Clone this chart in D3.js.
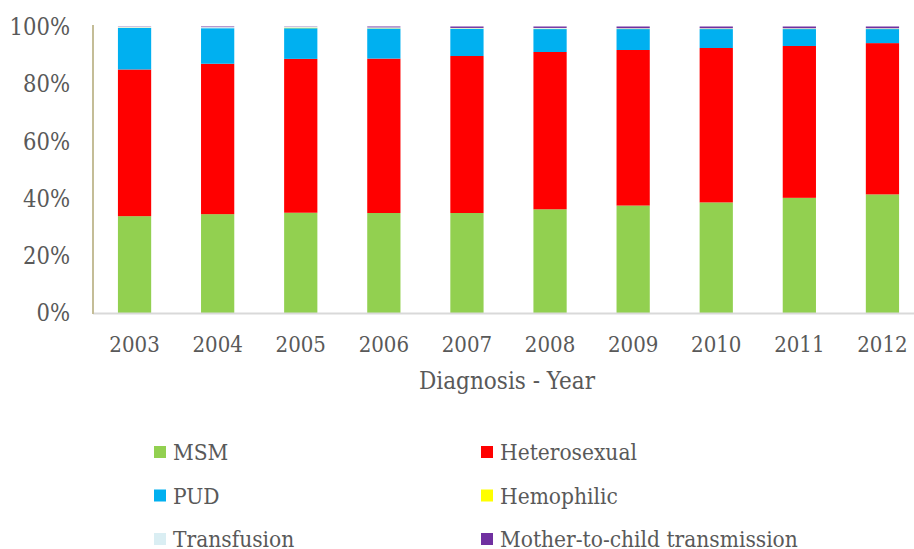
<!DOCTYPE html>
<meta charset="utf-8">
<script src="https://d3js.org/d3.v7.min.js"></script>
<style>
  body { margin: 0; background: #fff; }
  text { font-family: "DejaVu Serif Condensed", "DejaVu Serif", serif; fill: #595959; }
</style>
<div id="chart"></div>
<script>
// categories and series (share of diagnoses, %)
var years = ["2003", "2004", "2005", "2006", "2007", "2008", "2009", "2010", "2011", "2012"];
var msm          = [33.8, 34.5, 35.0, 34.9, 34.9, 36.2, 37.5, 38.6, 40.2, 41.4];
var heterosexual = [51.2, 52.5, 53.7, 53.9, 54.8, 54.9, 54.3, 53.9, 53.0, 52.8];
var pud          = [14.5, 12.4, 10.7, 10.5,  9.5,  8.0,  7.3,  6.6,  5.9,  4.9];
var hemophilic   = [ 0.1,  0.0,  0.2,  0.1,  0.1,  0.1,  0.1,  0.1,  0.1,  0.1];
var transfusion  = [ 0.3,  0.4,  0.3,  0.3,  0.2,  0.3,  0.2,  0.2,  0.2,  0.2];
var motherChild  = [ 0.1,  0.2,  0.1,  0.3,  0.5,  0.5,  0.6,  0.6,  0.6,  0.6];
var seriesNames = ["MSM", "Heterosexual", "PUD", "Hemophilic", "Transfusion", "Mother-to-child transmission"];
var seriesValues = [msm, heterosexual, pud, hemophilic, transfusion, motherChild];
var seriesColors = ["#92D050", "#FF0000", "#00B0F0", "#FFFF00", "#DAEEF3", "#7030A0"];
var yTicks = [0, 20, 40, 60, 80, 100];

var W = 914, H = 549;
var svg = d3.select("#chart").append("svg")
    .attr("width", W)
    .attr("height", H);

// build rows for the stack
var rows = years.map(function(y, i) {
  var r = { year: y };
  seriesNames.forEach(function(s, j) { r[s] = seriesValues[j][i]; });
  return r;
});

var x = d3.scaleBand()
    .domain(years)
    .range([93, 924])
    .paddingInner(0.6)
    .paddingOuter(0.3);

var y = d3.scaleLinear()
    .domain([0, 100])
    .range([313, 26.5]);

var color = d3.scaleOrdinal().domain(seriesNames).range(seriesColors);

var stacked = d3.stack().keys(seriesNames)(rows);

// bars
svg.append("g")
  .selectAll("g")
  .data(stacked)
  .enter().append("g")
    .attr("fill", function(d) { return color(d.key); })
  .selectAll("rect")
  .data(function(d) { return d; })
  .enter().append("rect")
    .attr("x", function(d) { return x(d.data.year); })
    .attr("y", function(d) { return y(d[1]); })
    .attr("width", x.bandwidth())
    .attr("height", function(d) { return y(d[0]) - y(d[1]); });

// x axis line
svg.append("line")
    .attr("x1", 93).attr("x2", 914)
    .attr("y1", 313.5).attr("y2", 313.5)
    .attr("stroke", "#D9D9D9")
    .attr("stroke-width", 2);

// y axis line
svg.append("line")
    .attr("x1", 93).attr("x2", 93)
    .attr("y1", 25).attr("y2", 314)
    .attr("stroke", "#C4BD97")
    .attr("stroke-width", 2);

// y tick labels
svg.append("g")
  .selectAll("text")
  .data(yTicks)
  .enter().append("text")
    .attr("x", 70)
    .attr("y", function(d) { return y(d); })
    .attr("dy", "0.36em")
    .attr("text-anchor", "end")
    .style("font-size", "23.5px")
    .text(function(d) { return d + "%"; });

// x tick labels
svg.append("g")
  .selectAll("text")
  .data(years)
  .enter().append("text")
    .attr("x", function(d) { return x(d) + x.bandwidth() / 2; })
    .attr("y", 352)
    .attr("text-anchor", "middle")
    .style("font-size", "22px")
    .text(function(d) { return d; });

// axis title
svg.append("text")
    .attr("x", 507)
    .attr("y", 389)
    .attr("text-anchor", "middle")
    .style("font-size", "24px")
    .text("Diagnosis - Year");

// legend, two columns
var legend = svg.append("g")
  .selectAll("g")
  .data(seriesNames)
  .enter().append("g")
    .attr("transform", function(d, i) {
      var col = i % 2, row = Math.floor(i / 2);
      return "translate(" + (col === 0 ? 154 : 481) + "," + (452 + row * 43.5) + ")";
    });

legend.append("rect")
    .attr("x", 0)
    .attr("y", -6)
    .attr("width", 12)
    .attr("height", 12)
    .attr("fill", color);

legend.append("text")
    .attr("x", 19)
    .attr("y", 0)
    .attr("dy", "0.36em")
    .style("font-size", "22.5px")
    .text(function(d) { return d; });
</script>
